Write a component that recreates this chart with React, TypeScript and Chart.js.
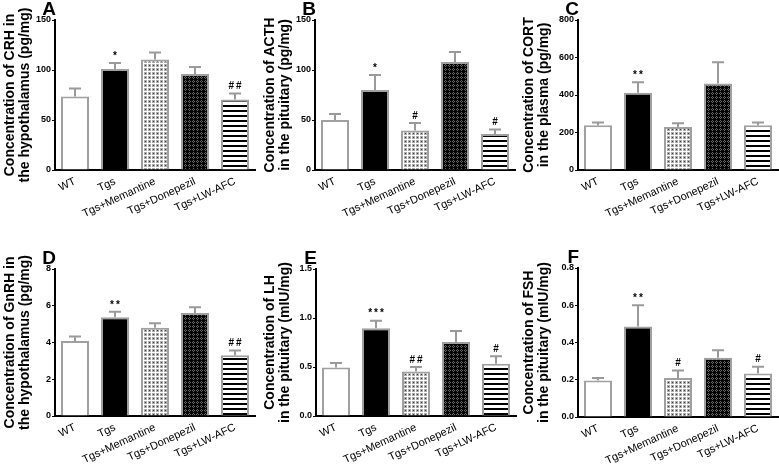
import React, { useEffect, useRef } from 'react';
import { Chart, registerables } from 'chart.js';
Chart.register(...registerables);

const groups = ['WT', 'Tgs', 'Tgs+Memantine', 'Tgs+Donepezil', 'Tgs+LW-AFC'];

const crhMean = [73.5, 101, 110.5, 96, 70.5];
const crhErr = [8, 6, 7, 7, 6];
const crhSig = ['', '*', '', '', '##'];

const acthMean = [50, 80, 39.5, 108, 36];
const acthErr = [6, 15, 7.5, 10, 4.5];
const acthSig = ['', '*', '#', '', '#'];

const cortMean = [239, 412, 230, 462, 239];
const cortErr = [15, 56, 20, 113, 15];
const cortSig = ['', '**', '', '', ''];

const gnrhMean = [4.08, 5.38, 4.8, 5.61, 3.3];
const gnrhErr = [0.25, 0.29, 0.25, 0.31, 0.27];
const gnrhSig = ['', '**', '', '', '##'];

const lhMean = [0.495, 0.895, 0.454, 0.756, 0.532];
const lhErr = [0.045, 0.078, 0.046, 0.112, 0.078];
const lhSig = ['', '***', '##', '', '#'];

const fshMean = [0.196, 0.486, 0.21, 0.318, 0.234];
const fshErr = [0.014, 0.114, 0.04, 0.041, 0.036];
const fshSig = ['', '**', '#', '', '#'];

const yTitleA = ['Concentration of CRH in', 'the hypothalamus (pg/mg)'];
const yTitleB = ['Concentration of ACTH', 'in the pituitary (pg/mg)'];
const yTitleC = ['Concentration of CORT', 'in the plasma (pg/mg)'];
const yTitleD = ['Concentration of GnRH in', 'the hypothalamus (pg/mg)'];
const yTitleE = ['Concentration of LH', 'in the pituitary (mIU/mg)'];
const yTitleF = ['Concentration of FSH', 'in the pituitary (mIU/mg)'];

const FONT = "'Liberation Sans', Arial, Helvetica, sans-serif";

type Panel = {
  letter: string;
  mean: number[];
  err: number[];
  sig: string[];
  title: string[];
  max: number;
  step: number;
  decimals: number;
  left: number;
  top: number;
  w: number;
  h: number;
  yw: number;
  padTop: number;
  padRight: number;
  xh: number;
};

const panels: Panel[] = [
  { letter: 'A', mean: crhMean, err: crhErr, sig: crhSig, title: yTitleA, max: 150, step: 50, decimals: 0, left: 0, top: 0, w: 260, h: 233, yw: 55, padTop: 20, padRight: 5, xh: 63 },
  { letter: 'B', mean: acthMean, err: acthErr, sig: acthSig, title: yTitleB, max: 150, step: 50, decimals: 0, left: 260, top: 0, w: 260, h: 233, yw: 55, padTop: 20, padRight: 5, xh: 63 },
  { letter: 'C', mean: cortMean, err: cortErr, sig: cortSig, title: yTitleC, max: 800, step: 200, decimals: 0, left: 519, top: 0, w: 260, h: 233, yw: 59, padTop: 20, padRight: 1, xh: 63 },
  { letter: 'D', mean: gnrhMean, err: gnrhErr, sig: gnrhSig, title: yTitleD, max: 8, step: 2, decimals: 0, left: 0, top: 233, w: 260, h: 234, yw: 55, padTop: 36, padRight: 5, xh: 51 },
  { letter: 'E', mean: lhMean, err: lhErr, sig: lhSig, title: yTitleE, max: 1.5, step: 0.5, decimals: 1, left: 260, top: 233, w: 260, h: 234, yw: 56, padTop: 36, padRight: 4, xh: 51 },
  { letter: 'F', mean: fshMean, err: fshErr, sig: fshSig, title: yTitleF, max: 0.8, step: 0.2, decimals: 1, left: 519, top: 233, w: 260, h: 234, yw: 59, padTop: 35, padRight: 1, xh: 50 },
];

function makePattern(kind: string): CanvasPattern | string {
  const c = document.createElement('canvas');
  const ctx = c.getContext('2d')!;
  if (kind === 'mem') {
    c.width = 4; c.height = 4;
    ctx.fillStyle = '#acacac'; ctx.fillRect(0, 0, 4, 4);
    ctx.fillStyle = '#ffffff'; ctx.fillRect(0, 3, 4, 1); ctx.fillRect(3, 0, 1, 4);
    ctx.fillStyle = '#3a3a3a'; ctx.fillRect(1, 1, 1, 1);
  } else if (kind === 'don') {
    c.width = 4; c.height = 4;
    ctx.fillStyle = '#050505'; ctx.fillRect(0, 0, 4, 4);
    ctx.fillStyle = '#6a6a6a';
    ctx.fillRect(1, 0, 1, 1); ctx.fillRect(0, 1, 1, 1); ctx.fillRect(2, 1, 1, 1); ctx.fillRect(1, 2, 1, 1);
  } else {
    c.width = 4; c.height = 5;
    ctx.fillStyle = '#ffffff'; ctx.fillRect(0, 0, 4, 5);
    ctx.fillStyle = '#000000'; ctx.fillRect(0, 0, 4, 2);
  }
  return ctx.createPattern(c, 'repeat') || '#888';
}

function PanelChart({ p }: { p: Panel }) {
  const ref = useRef<HTMLCanvasElement>(null);
  useEffect(() => {
    if (!ref.current) return;
    const fills = ['#ffffff', '#000000', makePattern('mem'), makePattern('don'), makePattern('lw')];
    const overlay = {
      id: 'overlay',
      afterDatasetsDraw(chart: any) {
        const ctx = chart.ctx;
        const meta = chart.getDatasetMeta(0);
        const ys = chart.scales.y;
        ctx.save();
        meta.data.forEach((bar: any, i: number) => {
          const x = bar.x;
          const top = ys.getPixelForValue(p.mean[i]);
          const et = ys.getPixelForValue(p.mean[i] + p.err[i]);
          ctx.strokeStyle = '#9a9a9a';
          ctx.lineWidth = 2;
          ctx.beginPath();
          ctx.moveTo(x, top);
          ctx.lineTo(x, et);
          ctx.moveTo(x - 6, et);
          ctx.lineTo(x + 6, et);
          ctx.stroke();
          if (p.sig[i]) {
            ctx.fillStyle = '#000';
            ctx.font = `bold 10px ${FONT}`;
            (ctx as any).letterSpacing = '2px';
            ctx.textAlign = 'center';
            ctx.textBaseline = 'bottom';
            ctx.fillText(p.sig[i], x + 1, et - 2);
            (ctx as any).letterSpacing = '0px';
          }
        });
        ctx.fillStyle = '#000';
        ctx.font = `bold 19px ${FONT}`;
        ctx.textAlign = 'right';
        ctx.textBaseline = 'alphabetic';
        ctx.fillText(p.letter, chart.chartArea.left + 1, chart.chartArea.top - 5);
        ctx.restore();
      },
    };
    const chart = new Chart(ref.current, {
      type: 'bar',
      data: {
        labels: groups,
        datasets: [
          {
            data: p.mean,
            backgroundColor: fills as any,
            borderColor: '#a0a0a0',
            borderWidth: 2,
            barPercentage: 0.7,
            categoryPercentage: 1,
          },
        ],
      },
      options: {
        responsive: false,
        animation: false,
        devicePixelRatio: 1,
        layout: { padding: { top: p.padTop, right: p.padRight, left: 0, bottom: 0 } },
        plugins: { legend: { display: false }, tooltip: { enabled: false }, title: { display: false } },
        scales: {
          x: {
            afterFit: (s: any) => { s.height = p.xh; },
            grid: { display: true, drawOnChartArea: false, drawTicks: false },
            border: { display: true, color: '#000', width: 2 },
            ticks: {
              autoSkip: false,
              minRotation: 25,
              maxRotation: 25,
              padding: 5,
              color: '#000',
              font: { family: FONT, size: 11 },
            },
          },
          y: {
            min: 0,
            max: p.max,
            afterFit: (s: any) => { s.width = p.yw; },
            grid: { display: true, drawOnChartArea: false, drawTicks: true, tickLength: 3, color: '#000', lineWidth: 1 },
            border: { display: true, color: '#000', width: 2 },
            ticks: {
              stepSize: p.step,
              padding: 1,
              color: '#000',
              font: { family: FONT, size: 9, weight: 'bold' },
              callback: (v: any) => Number(v).toFixed(p.decimals),
            },
            title: {
              display: true,
              text: p.title,
              color: '#000',
              padding: { top: 2, bottom: 0 },
              font: { family: FONT, size: 14, weight: 'bold', lineHeight: 1.1 },
            },
          },
        },
      },
      plugins: [overlay],
    });
    return () => chart.destroy();
  }, [p]);
  return (
    <canvas
      ref={ref}
      width={p.w}
      height={p.h}
      style={{ position: 'absolute', left: p.left, top: p.top, width: p.w, height: p.h }}
    />
  );
}

export default function App() {
  return (
    <div style={{ position: 'absolute', left: 0, top: 0, width: 779, height: 467, background: '#fff', overflow: 'hidden' }}>
      {panels.map((p) => (
        <PanelChart key={p.letter} p={p} />
      ))}
    </div>
  );
}
